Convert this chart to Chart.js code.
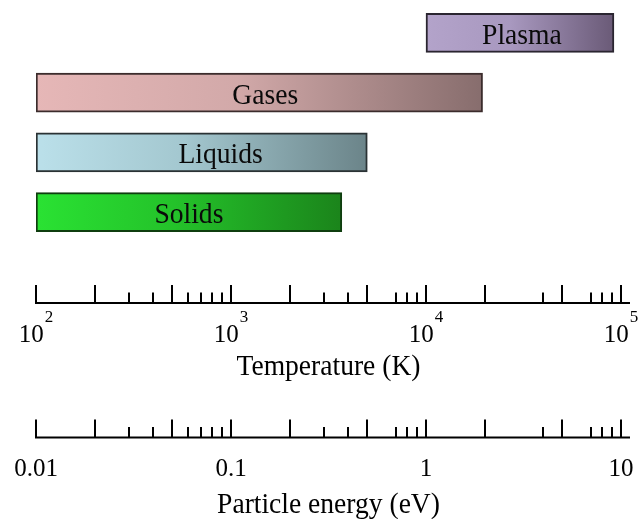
<!DOCTYPE html>
<html><head><meta charset="utf-8">
<script src="https://cdn.jsdelivr.net/npm/chart.js@4/dist/chart.umd.min.js"></script>
<style>html,body{margin:0;padding:0;background:#fff}#wrap{width:644px;height:519px;position:relative}</style>
</head><body><div id="wrap"><canvas id="c"></canvas></div>
<script>
// ---- data ----
const phases = ['Plasma', 'Gases', 'Liquids', 'Solids'];
const rangeStartK = [10000, 100, 100, 100];
const rangeEndK = [92000, 19500, 5000, 3700];

const tempMajorTicks = [100, 200, 500, 1000, 2000, 5000, 10000, 20000, 50000, 100000];
const tempMinorTicks = [300, 400, 600, 700, 800, 900, 3000, 4000, 7000, 8000, 9000, 40000, 70000, 80000, 90000];
const tempLabelValues = [100, 1000, 10000, 100000];
const tempLabelExponents = ['2', '3', '4', '5'];

const energyMajorTicks = [0.01, 0.02, 0.05, 0.1, 0.2, 0.5, 1, 2, 5, 10];
const energyMinorTicks = [0.03, 0.04, 0.06, 0.07, 0.08, 0.09, 0.3, 0.4, 0.7, 0.8, 0.9, 4, 7, 8, 9];
const energyLabelValues = [0.01, 0.1, 1, 10];
const energyLabels = ['0.01', '0.1', '1', '10'];

const tempTitle = 'Temperature (K)';
const energyTitle = 'Particle energy (eV)';

// ---- styles ----
const gradLight = ['#b3a3ca', '#e6b7b7', '#bbe0ea', '#2ae233'];
const gradMid   = ['#a898bf', '#d2a9a9', '#a3c7cf', '#24c22a'];
const gradDark  = ['#6a5a77', '#876d6d', '#6b8489', '#1b841b'];
const borderCols = ['#2a2530', '#3b2c2c', '#2a3234', '#0f3d0f'];
const SERIF = '"Liberation Serif", "Times New Roman", serif';

function scaledText(ctx, text, x, y, sx) {
  ctx.save();
  ctx.translate(x, y);
  ctx.scale(sx, 1);
  ctx.fillText(text, 0, 0);
  ctx.restore();
}

const axesPlugin = {
  id: 'physAxes',
  afterDatasetsDraw(chart, args, opts) {
    const ctx = chart.ctx;
    const meta = chart.getDatasetMeta(0);
    ctx.save();
    ctx.fillStyle = '#0a0a0a';
    ctx.font = '30px ' + SERIF;
    ctx.textAlign = 'center';
    ctx.textBaseline = 'alphabetic';
    meta.data.forEach((bar, i) => {
      const p = bar.getProps(['x', 'base', 'y'], true);
      const cx = (p.x + p.base) / 2 + (opts.labelNudge[i] || 0);
      scaledText(ctx, phases[i], cx, p.y + 11, 0.92);
    });
    ctx.restore();
  },
  afterDraw(chart, args, opts) {
    const ctx = chart.ctx;
    const drawAxis = (scale, major, minor, lineY) => {
      ctx.save();
      ctx.strokeStyle = '#000';
      ctx.lineWidth = 2;
      ctx.lineCap = 'butt';
      ctx.beginPath();
      const x0 = scale.getPixelForValue(scale.min);
      ctx.moveTo(x0 - 1, lineY);
      ctx.lineTo(scale.right + 9, lineY);
      major.forEach(v => {
        const x = Math.round(scale.getPixelForValue(v));
        ctx.moveTo(x, lineY);
        ctx.lineTo(x, lineY - 18);
      });
      minor.forEach(v => {
        const x = Math.round(scale.getPixelForValue(v));
        ctx.moveTo(x, lineY);
        ctx.lineTo(x, lineY - 10.5);
      });
      ctx.stroke();
      ctx.restore();
    };
    const xs = chart.scales.x;
    const xe = chart.scales.xE;
    drawAxis(xs, tempMajorTicks, tempMinorTicks, opts.tempLineY);
    drawAxis(xe, energyMajorTicks, energyMinorTicks, opts.energyLineY);

    ctx.save();
    ctx.fillStyle = '#000';
    ctx.textBaseline = 'alphabetic';
    // temperature labels 10^n
    tempLabelValues.forEach((v, i) => {
      const x = xs.getPixelForValue(v);
      ctx.font = '25px ' + SERIF;
      const wb = ctx.measureText('10').width;
      ctx.font = '17px ' + SERIF;
      const we = ctx.measureText(tempLabelExponents[i]).width;
      const start = x - (wb + we + 1) / 2;
      ctx.textAlign = 'left';
      ctx.font = '25px ' + SERIF;
      ctx.fillText('10', start, opts.tempLabelY);
      ctx.font = '17px ' + SERIF;
      ctx.fillText(tempLabelExponents[i], start + wb + 1, opts.tempLabelY - 19.5);
    });
    // energy labels
    ctx.textAlign = 'center';
    ctx.font = '25px ' + SERIF;
    energyLabelValues.forEach((v, i) => {
      ctx.fillText(energyLabels[i], xe.getPixelForValue(v), opts.energyLabelY);
    });
    // titles
    ctx.font = '29px ' + SERIF;
    const mid = (xs.left + xs.right) / 2;
    scaledText(ctx, tempTitle, mid, opts.tempTitleY, 0.95);
    scaledText(ctx, energyTitle, mid, opts.energyTitleY, 0.95);
    ctx.restore();
  }
};

new Chart(document.getElementById('c'), {
  type: 'bar',
  data: {
    labels: phases,
    datasets: [{
      data: phases.map((p, i) => [rangeStartK[i], rangeEndK[i]]),
      backgroundColor: (c) => {
        const ch = c.chart;
        const i = c.dataIndex;
        if (i === undefined || !ch.chartArea || !ch.scales.x) return gradLight[i || 0];
        const xs = ch.scales.x;
        const x0 = xs.getPixelForValue(rangeStartK[i]);
        const x1 = xs.getPixelForValue(rangeEndK[i]);
        const g = ch.ctx.createLinearGradient(x0, 0, x1, 0);
        g.addColorStop(0, gradLight[i]);
        g.addColorStop(0.45, gradMid[i]);
        g.addColorStop(1, gradDark[i]);
        return g;
      },
      borderColor: borderCols,
      borderWidth: 2,
      borderSkipped: false,
      barThickness: 39
    }]
  },
  options: {
    indexAxis: 'y',
    responsive: true,
    maintainAspectRatio: false,
    animation: false,
    layout: { padding: { left: 36, right: 23, top: 3, bottom: 277 } },
    scales: {
      x: { type: 'logarithmic', min: 100, max: 100000, display: false },
      xE: { type: 'logarithmic', axis: 'x', min: 0.01, max: 10, display: false, position: 'bottom' },
      y: { type: 'category', display: false, offset: true }
    },
    plugins: {
      legend: { display: false },
      tooltip: { enabled: false },
      physAxes: {
        labelNudge: [2, 6, 19, 0],
        tempLineY: 303,
        energyLineY: 437.5,
        tempLabelY: 341.5,
        energyLabelY: 476,
        tempTitleY: 375,
        energyTitleY: 513
      }
    }
  },
  plugins: [axesPlugin]
});
</script>
</body></html>
